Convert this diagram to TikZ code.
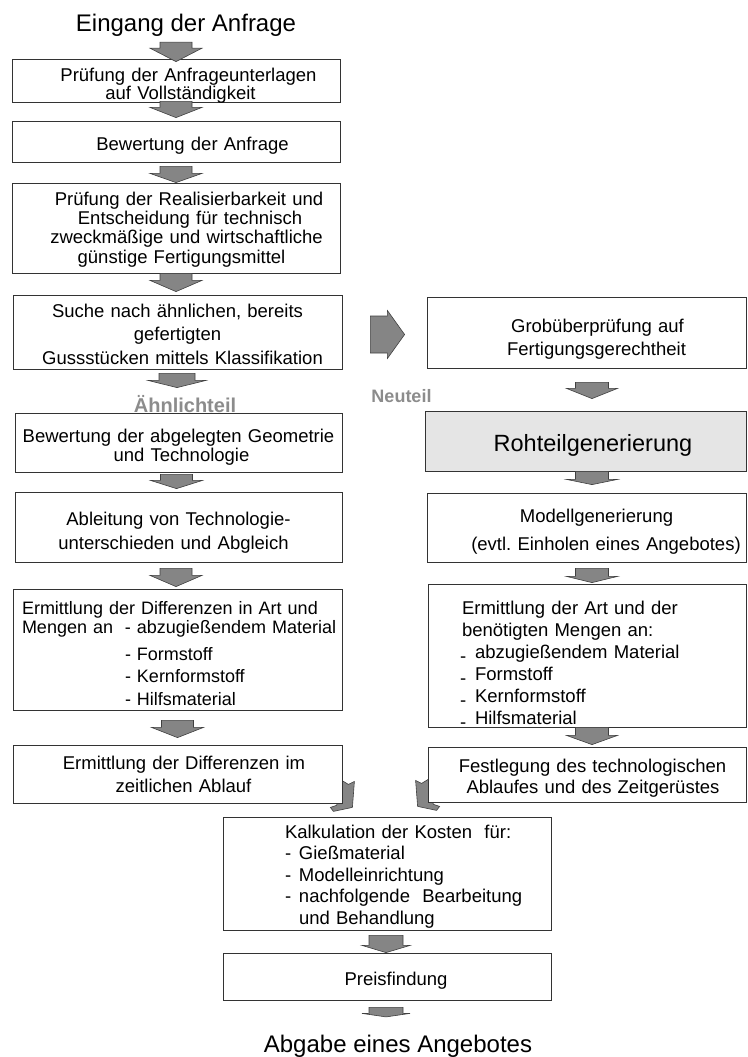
\documentclass[tikz,border=0pt]{standalone}
\usepackage{fontspec}
\setmainfont{Liberation Sans}
\usetikzlibrary{calc,backgrounds}
\newcommand\fsz[2]{\fontsize{#1}{#2}\selectfont}
\newcommand\lowdash{\raisebox{-0.22em}{-}}
% centred line, shifted right by half of #1 (pt)
\newcommand\sh[2]{\makebox[0pt][c]{\hspace*{#1pt}#2}}
% block arrow pointing down from node #1 to node #2
% #3 x offset, #4 top offset below src, #5 body length, #6 tip offset (image-down) from dst top, #7 body half width, #8 head half width
\newcommand\flowdown[8]{%
\filldraw[blockarrow] let \p1=(#1.south), \p2=(#2.north) in
 ({\x1+(#3pt)-#7pt},{\y1-(#4pt)}) -- ({\x1+(#3pt)+#7pt},{\y1-(#4pt)}) --
 ({\x1+(#3pt)+#7pt},{\y1-(#4pt)-#5pt}) -- ({\x1+(#3pt)+#8pt},{\y1-(#4pt)-#5pt}) --
 ({\x1+(#3pt)},{\y2-(#6pt)}) --
 ({\x1+(#3pt)-#8pt},{\y1-(#4pt)-#5pt}) -- ({\x1+(#3pt)-#7pt},{\y1-(#4pt)-#5pt}) -- cycle;}
\begin{document}
\frenchspacing
\begin{tikzpicture}[x=1pt,y=-1pt,
 box/.style={draw=black!80, line width=0.8pt, fill=white, inner xsep=4pt, inner ysep=0pt, align=center},
 blockarrow/.style={fill=black!48, draw=black!75, line width=0.6pt, line join=miter},
 graylabel/.style={text=black!45, inner sep=0pt, anchor=base},
 bigtext/.style={font=\fsz{24}{28}, inner sep=0pt, anchor=base},
]
\useasboundingbox (0,0) rectangle (747,1057);

\node[bigtext] (title) at (186,31.5) {Eingang der Anfrage};

\node[box, text width=320pt, text height=22.7pt, text depth=20.3pt, font=\fsz{18.5}{18}] (b1) at (176,80.5)
 {\sh{25}{Prüfung der Anfrageunterlagen}\\\sh{9}{auf Vollständigkeit}};
\node[box, text width=320pt, text height=29.7pt, text depth=11.3pt, font=\fsz{18.5}{20}] (b2) at (176,141.5)
 {\sh{33}{Bewertung der Anfrage}};
\node[box, text width=320pt, text height=22pt, text depth=68pt, font=\fsz{18.5}{19.4}] (b3) at (176,228)
 {\sh{26}{Prüfung der Realisierbarkeit und}\\\sh{28}{Entscheidung für technisch}\\
  \sh{21}{zweckmäßige und wirtschaftliche}\\\sh{11}{günstige Fertigungsmittel}};
\node[box, text width=321pt, text height=22.3pt, text depth=51.7pt, font=\fsz{18.5}{23.5}] (b4) at (177.5,332)
 {\sh{0}{Suche nach ähnlichen, bereits}\\\sh{0}{gefertigten}\\\sh{10}{Gussstücken mittels Klassifikation}};
\node[box, text width=319pt, text height=29.3pt, text depth=29.7pt, font=\fsz{18.5}{19.4}] (b5) at (178.5,442.5)
 {\sh{0}{Bewertung der abgelegten Geometrie}\\\sh{6}{und Technologie}};
\node[box, text width=319pt, text height=33.7pt, text depth=36.3pt, font=\fsz{18.5}{23.3}] (b6) at (178.5,527)
 {\sh{0}{Ableitung von Technologie-}\\\sh{-10}{unterschieden und Abgleich}};
\node[box, text width=321pt, text height=25pt, text depth=96pt, font=\fsz{18}{19.3}, align=left] (b7) at (177.5,649.5)
 {\hspace*{5pt}\mbox{Ermittlung der Differenzen in Art und}\\
  \hspace*{5pt}\mbox{\makebox[103pt][l]{Mengen an}- abzugießendem Material}\\[7.4pt]
  \hspace*{108pt}- Formstoff\\[3.4pt]
  \hspace*{108pt}- Kernformstoff\\[3pt]
  \hspace*{108pt}- Hilfsmaterial};
\node[box, text width=321pt, text height=24pt, text depth=34pt, font=\fsz{18.5}{23.3}] (b8) at (177.5,774)
 {\sh{13}{Ermittlung der Differenzen im}\\\sh{12}{zeitlichen Ablauf}};

\node[box, text width=311pt, text height=35.3pt, text depth=35.7pt, font=\fsz{18.5}{22.7}] (r1) at (586.5,332.5)
 {\sh{22}{Grobüberprüfung auf}\\\sh{20}{Fertigungsgerechtheit}};
\node[box, fill=black!10, text width=313pt, text height=40.7pt, text depth=19.3pt, font=\fsz{23.5}{28}] (r2) at (585.5,441)
 {\sh{15}{Rohteilgenerierung}};
\node[box, text width=311pt, text height=29.3pt, text depth=39.7pt, font=\fsz{18.5}{27.7}] (r3) at (586.5,527.5)
 {\sh{20}{Modellgenerierung}\\\sh{39}{(evtl. Einholen eines Angebotes)}};
\node[box, text width=310pt, text height=30pt, text depth=113pt, font=\fsz{18.5}{22}, align=left] (r4) at (587,655.5)
 {\hspace*{30pt}Ermittlung der Art und der\\
  \hspace*{30pt}benötigten Mengen an:\\
  \hspace*{28pt}\makebox[15pt][l]{\lowdash}abzugießendem Material\\
  \hspace*{28pt}\makebox[15pt][l]{\lowdash}Formstoff\\
  \hspace*{28pt}\makebox[15pt][l]{\lowdash}Kernformstoff\\
  \hspace*{28pt}\makebox[15pt][l]{\lowdash}Hilfsmaterial};
\node[box, text width=310pt, text height=25.3pt, text depth=29.7pt, font=\fsz{18.5}{21}] (r5) at (587,774.5)
 {\sh{11}{Festlegung des technologischen}\\\sh{12}{Ablaufes und des Zeitgerüstes}};

\node[box, text width=320pt, text height=21.3pt, text depth=91.7pt, font=\fsz{18.5}{21.5}, align=left] (k) at (387,873.5)
 {\hspace*{58pt}Kalkulation der Kosten\ \ für:\\
  \hspace*{58pt}\makebox[14pt][l]{-}Gießmaterial\\
  \hspace*{58pt}\makebox[14pt][l]{-}Modelleinrichtung\\
  \hspace*{58pt}\mbox{\makebox[14pt][l]{-}nachfolgende\ \ Bearbeitung}\\
  \hspace*{72pt}und Behandlung};
\node[box, text width=320pt, text height=32.7pt, text depth=14.3pt, font=\fsz{18.5}{20}] (p) at (387,976.5)
 {\sh{18}{Preisfindung}};

\node[bigtext] (abgabe) at (398,1052.5) {Abgabe eines Angebotes};

\node[graylabel, font=\bfseries\fsz{20}{24}] (aehnlich) at (185,412) {Ähnlichteil};
\node[graylabel, font=\bfseries\fsz{18}{22}] (neu) at (401.5,402) {Neuteil};

% vertical flow arrows
\flowdown{title}{b1}{-10}{5.5}{6}{3}{16}{26}
\flowdown{b1}{b2}{0}{-1}{6}{-3}{16}{26}
\flowdown{b2}{b3}{0}{4}{7}{0}{16}{26}
\flowdown{b3}{b4}{0}{0}{7}{-3}{16}{26}
\flowdown{b4}{b5}{-0.5}{4}{7}{-25}{18}{29}
\flowdown{b5}{b6}{-2}{2}{6}{-3}{16}{26}
\flowdown{b6}{b7}{-2.5}{6}{7}{-2}{16}{26}
\flowdown{b7}{b8}{0}{10}{7}{-7}{16}{26}
\flowdown{r1}{r2}{5.5}{14}{6}{-12}{16.5}{25.5}
\flowdown{r2}{r3}{6.5}{0}{8}{-8}{16.5}{25.5}
\flowdown{r3}{r4}{5.5}{6}{8}{-1}{16.5}{25.5}
\flowdown{r4}{r5}{5}{0}{8}{-2}{16.5}{25.5}
\flowdown{k}{p}{-1}{5}{10}{0}{17}{24}
\flowdown{p}{abgabe}{-1}{7}{6}{-18}{17}{24}

% right-pointing arrow to the Neuteil branch
\filldraw[blockarrow] let \p1=(b4.east), \p2=(r1.west) in
 ({\x1+28pt},{\y1-2.5pt+18.5pt}) -- ({\x1+45pt},{\y1-2.5pt+18.5pt}) --
 ({\x1+45pt},{\y1-2.5pt+24pt}) -- ({\x2-22pt},{\y1-2.5pt}) --
 ({\x1+45pt},{\y1-2.5pt-24pt}) -- ({\x1+45pt},{\y1-2.5pt-18.5pt}) --
 ({\x1+28pt},{\y1-2.5pt-18.5pt}) -- cycle;

% converging arrows into the cost calculation (partly hidden behind boxes)
\begin{pgfonlayer}{background}
\filldraw[blockarrow] ([shift={(-12,-30)}]b8.south east) -- ([shift={(6,-19)}]b8.south east)
 -- ([shift={(12,-22)}]b8.south east) -- ([shift={(10,4)}]b8.south east)
 -- ([shift={(-9,8)}]b8.south east) -- ([shift={(-12,4)}]b8.south east)
 -- ([shift={(-6,2)}]b8.south east) -- ([shift={(-3,-4)}]b8.south east) -- cycle;
\filldraw[blockarrow] ([shift={(12,-30)}]r5.south west) -- ([shift={(-6,-19)}]r5.south west)
 -- ([shift={(-12,-22)}]r5.south west) -- ([shift={(-10,4)}]r5.south west)
 -- ([shift={(9,8)}]r5.south west) -- ([shift={(12,4)}]r5.south west)
 -- ([shift={(6,2)}]r5.south west) -- ([shift={(3,-4)}]r5.south west) -- cycle;
\end{pgfonlayer}
\end{tikzpicture}
\end{document}
